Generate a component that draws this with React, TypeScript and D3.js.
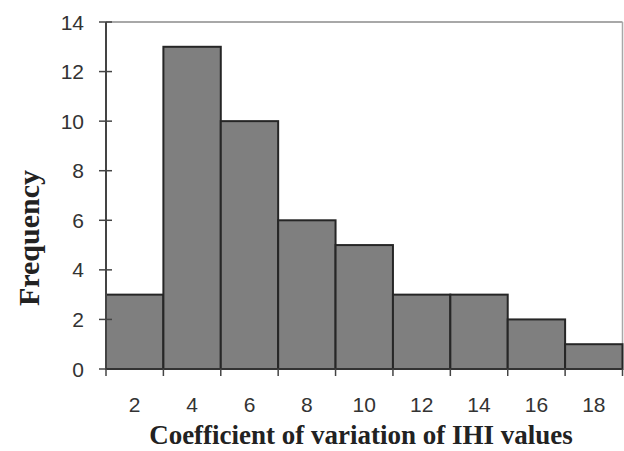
import React from "react";
import * as d3 from "d3";

const binStarts = [1, 3, 5, 7, 9, 11, 13, 15, 17];
const binWidth = 2;
const frequencies = [3, 13, 10, 6, 5, 3, 3, 2, 1];
const xTickLabels = [2, 4, 6, 8, 10, 12, 14, 16, 18];
const yTicks = [0, 2, 4, 6, 8, 10, 12, 14];

const W = 624;
const H = 451;
const left = 106;
const right = 622.5;
const top = 22;
const bottom = 369;

export default function App() {
  const x = d3.scaleLinear().domain([1, 19]).range([left, right]);
  const y = d3.scaleLinear().domain([0, 14]).range([bottom, top]);
  const edges = [...binStarts, 19];
  return (
    <svg width={W} height={H} style={{ position: "absolute", left: 0, top: 0 }}>
      <rect width={W} height={H} fill="#fff" />
      <line x1={left} x2={right} y1={top} y2={top} stroke="#a8a8a8" strokeWidth={2} />
      <line x1={right} x2={right} y1={top} y2={bottom} stroke="#a8a8a8" strokeWidth={1.5} />
      {binStarts.map((s, i) => (
        <rect
          key={i}
          x={x(s)}
          y={y(frequencies[i])}
          width={x(s + binWidth) - x(s)}
          height={y(0) - y(frequencies[i])}
          fill="#7f7f7f"
          stroke="#262626"
          strokeWidth={2}
        />
      ))}
      <line x1={left} x2={left} y1={top} y2={bottom} stroke="#444" strokeWidth={2} />
      {yTicks.map((t) => (
        <g key={t}>
          <line x1={left - 7} x2={left + 6} y1={y(t)} y2={y(t)} stroke="#444" strokeWidth={1.5} />
          <text
            x={84}
            y={y(t)}
            dy="0.36em"
            textAnchor="end"
            fontFamily="Liberation Sans, Arial, sans-serif"
            fontSize={21}
            fill="#333"
          >
            {t}
          </text>
        </g>
      ))}
      <line x1={left} x2={right} y1={bottom} y2={bottom} stroke="#333" strokeWidth={2} />
      {edges.map((e, i) => (
        <line key={i} x1={x(e)} x2={x(e)} y1={bottom} y2={bottom + 7} stroke="#444" strokeWidth={1.5} />
      ))}
      {xTickLabels.map((t) => (
        <text
          key={t}
          x={x(t)}
          y={412}
          textAnchor="middle"
          fontFamily="Liberation Sans, Arial, sans-serif"
          fontSize={21}
          fill="#333"
        >
          {t}
        </text>
      ))}
      <text
        x={361}
        y={444}
        textAnchor="middle"
        fontFamily="Liberation Serif, Times New Roman, serif"
        fontWeight="bold"
        fontSize={27}
        fill="#222"
      >
        Coefficient of variation of IHI values
      </text>
      <text
        transform={`translate(39, 238) rotate(-90)`}
        textAnchor="middle"
        fontFamily="Liberation Serif, Times New Roman, serif"
        fontWeight="bold"
        fontSize={30}
        fill="#222"
      >
        Frequency
      </text>
    </svg>
  );
}
